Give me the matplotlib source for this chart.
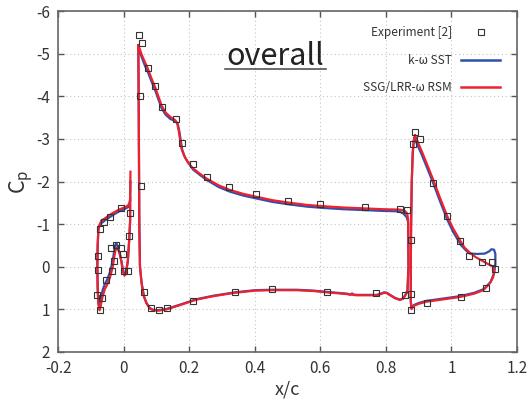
import matplotlib
matplotlib.use("Agg")
import matplotlib.pyplot as plt
from matplotlib.lines import Line2D

plt.rcParams['font.family'] = ['Noto Sans CJK JP', 'DejaVu Sans']
plt.rcParams['mathtext.default'] = 'regular'

# ---- experiment (squares) ----
exp_x = [-0.072, -0.079, -0.079, -0.081, -0.065, -0.072, -0.055, -0.034, -0.028, -0.037,
         -0.024, -0.008, -0.002, 0.001, 0.014, 0.017, 0.020, -0.008, -0.041, -0.059,
         0.047, 0.056, 0.074, 0.095, 0.117, 0.160, 0.177, 0.212, 0.253, 0.321, 0.404,
         0.502, 0.599, 0.735, 0.843, 0.863, 0.050, 0.052,
         0.062, 0.083, 0.108, 0.131, 0.211, 0.340, 0.452, 0.619, 0.770, 0.857,
         0.876, 0.877, 0.926, 1.028, 1.104, 1.133, 1.123, 1.094, 1.053, 1.026, 0.988,
         0.945, 0.904, 0.889, 0.882, 0.876]
exp_cp = [-0.89, -0.26, 0.07, 0.67, 0.73, 1.02, 0.30, 0.09, -0.13, -0.43,
          -0.51, -0.45, -0.31, 0.09, 0.09, -0.73, -1.27, -1.37, -1.17, -1.06,
          -5.44, -5.25, -4.67, -4.25, -3.75, -3.47, -2.91, -2.40, -2.10, -1.86, -1.70,
          -1.55, -1.47, -1.41, -1.36, -1.32, -4.01, -1.90,
          0.60, 0.96, 1.01, 0.96, 0.81, 0.60, 0.52, 0.59, 0.61, 0.67,
          0.65, 1.02, 0.85, 0.71, 0.50, 0.06, -0.10, -0.10, -0.25, -0.61, -1.18,
          -1.96, -2.99, -3.15, -2.87, -0.62]

# ---- SSG/LRR-omega RSM ----
slat_x_rsm = [0.021, 0.020, 0.020, 0.017, 0.013, 0.007, 0.003, -0.002, -0.006, -0.011,
              -0.016, -0.021, -0.025, -0.029, -0.033, -0.041, -0.050, -0.057, -0.064,
              -0.070, -0.073, -0.077, -0.079, -0.080, -0.079, -0.077, -0.075, -0.068,
              -0.058, -0.045, -0.031, -0.011, 0.005, 0.014, 0.018, 0.020]
slat_cp_rsm = [-2.23, -1.60, -1.09, -0.62, -0.15, 0.16, 0.21, 0.12, -0.08, -0.30,
               -0.40, -0.44, -0.38, -0.20, 0.00, 0.24, 0.42, 0.52, 0.70,
               0.92, 1.02, 0.85, 0.50, 0.00, -0.50, -0.85, -0.95, -1.08,
               -1.13, -1.20, -1.27, -1.35, -1.40, -1.44, -1.50, -1.60]

main_x_rsm = [0.045, 0.055, 0.065, 0.075, 0.085, 0.096, 0.106, 0.116, 0.128, 0.142,
              0.157, 0.163, 0.168, 0.173, 0.177, 0.185, 0.195, 0.210, 0.233, 0.253,
              0.290, 0.325, 0.365, 0.406, 0.455, 0.508, 0.560, 0.609, 0.670, 0.731,
              0.790, 0.843, 0.858, 0.865, 0.868, 0.869, 0.866, 0.862,
              0.853, 0.843, 0.828, 0.813, 0.803, 0.795, 0.785, 0.772, 0.740, 0.711,
              0.700, 0.697, 0.693, 0.680, 0.650, 0.619, 0.580, 0.528, 0.480, 0.452,
              0.401, 0.340, 0.274, 0.223, 0.172, 0.131, 0.106, 0.090, 0.080, 0.070,
              0.062, 0.055, 0.050, 0.048, 0.047, 0.046, 0.045]
main_cp_rsm = [-5.20, -4.98, -4.80, -4.63, -4.42, -4.22, -4.00, -3.78, -3.62, -3.52,
               -3.44, -3.38, -3.20, -2.95, -2.76, -2.60, -2.47, -2.32, -2.18, -2.07,
               -1.91, -1.80, -1.71, -1.64, -1.56, -1.50, -1.45, -1.42, -1.39, -1.37,
               -1.35, -1.34, -1.31, -1.25, -1.10, 0.00, 0.55, 0.63,
               0.75, 0.78, 0.74, 0.67, 0.62, 0.61, 0.64, 0.67, 0.67, 0.67,
               0.66, 0.63, 0.66, 0.64, 0.62, 0.60, 0.57, 0.55, 0.55, 0.55,
               0.56, 0.61, 0.69, 0.77, 0.90, 1.00, 1.03, 1.02, 0.98, 0.86,
               0.70, 0.39, 0.00, -1.00, -2.50, -4.00, -5.20]

flap_x_rsm = [0.889, 0.910, 0.930, 0.945, 0.965, 0.987, 1.005, 1.026, 1.040, 1.056,
              1.075, 1.092, 1.110, 1.128, 1.131, 1.127, 1.117, 1.097, 1.070, 1.026,
              0.980, 0.924, 0.900, 0.885, 0.878, 0.876, 0.876, 0.877, 0.879, 0.882,
              0.886, 0.889]
flap_cp_rsm = [-3.08, -2.70, -2.32, -2.03, -1.62, -1.19, -0.90, -0.62, -0.45, -0.33,
               -0.22, -0.15, -0.07, 0.00, 0.10, 0.25, 0.39, 0.55, 0.63, 0.71,
               0.76, 0.82, 0.87, 0.92, 0.99, 0.80, 0.00, -1.00, -2.00, -2.70,
               -3.00, -3.08]

# ---- k-omega SST ----
slat_x_sst = [0.021, 0.020, 0.020, 0.017, 0.013, 0.007, 0.003, -0.002, -0.006, -0.012,
              -0.018, -0.022, -0.025, -0.029, -0.033, -0.041, -0.050, -0.057, -0.064,
              -0.070, -0.073, -0.077, -0.079, -0.080, -0.079, -0.077, -0.075, -0.068,
              -0.058, -0.045, -0.031, -0.011, 0.005, 0.014, 0.018, 0.020]
slat_cp_sst = [-2.00, -1.55, -1.05, -0.60, -0.12, 0.14, 0.18, 0.08, -0.12, -0.30,
               -0.48, -0.55, -0.52, -0.35, -0.15, 0.12, 0.30, 0.40, 0.55,
               0.85, 1.00, 0.85, 0.50, 0.00, -0.50, -0.85, -0.93, -1.02,
               -1.08, -1.15, -1.22, -1.31, -1.36, -1.40, -1.46, -1.55]

main_x_sst = [0.045, 0.055, 0.065, 0.075, 0.085, 0.096, 0.106, 0.116, 0.128, 0.142,
              0.157, 0.165, 0.170, 0.175, 0.179, 0.187, 0.197, 0.212, 0.235, 0.255,
              0.290, 0.325, 0.365, 0.406, 0.455, 0.508, 0.560, 0.609, 0.670, 0.731,
              0.790, 0.840, 0.853, 0.863, 0.868, 0.869, 0.866, 0.862,
              0.853, 0.843, 0.828, 0.813, 0.803, 0.795, 0.785, 0.772, 0.740, 0.711,
              0.700, 0.697, 0.693, 0.680, 0.650, 0.619, 0.580, 0.528, 0.480, 0.452,
              0.401, 0.340, 0.274, 0.223, 0.172, 0.131, 0.106, 0.090, 0.080, 0.070,
              0.062, 0.055, 0.050, 0.048, 0.047, 0.046, 0.045]
main_cp_sst = [-5.18, -4.92, -4.72, -4.55, -4.35, -4.15, -3.93, -3.72, -3.57, -3.47,
               -3.42, -3.36, -3.18, -2.93, -2.74, -2.57, -2.44, -2.28, -2.14, -2.03,
               -1.87, -1.76, -1.67, -1.60, -1.52, -1.46, -1.41, -1.38, -1.35, -1.33,
               -1.31, -1.30, -1.25, -1.17, -1.05, 0.00, 0.55, 0.63,
               0.74, 0.77, 0.73, 0.66, 0.61, 0.60, 0.63, 0.66, 0.66, 0.66,
               0.65, 0.63, 0.65, 0.63, 0.61, 0.59, 0.56, 0.54, 0.54, 0.54,
               0.55, 0.60, 0.68, 0.76, 0.89, 0.99, 1.02, 1.01, 0.97, 0.85,
               0.69, 0.38, 0.00, -1.00, -2.50, -4.00, -5.18]

flap_x_sst = [0.887, 0.910, 0.930, 0.945, 0.965, 0.987, 1.005, 1.030, 1.046, 1.056,
              1.080, 1.102, 1.115, 1.122, 1.130, 1.134, 1.134, 1.130, 1.120, 1.100,
              1.070, 1.026, 0.980, 0.924, 0.900, 0.885, 0.878, 0.876, 0.876, 0.877,
              0.879, 0.882, 0.885, 0.887]
flap_cp_sst = [-3.02, -2.62, -2.24, -1.95, -1.54, -1.11, -0.82, -0.50, -0.37, -0.31,
               -0.30, -0.31, -0.36, -0.41, -0.40, -0.30, -0.05, 0.15, 0.35, 0.52,
               0.61, 0.69, 0.74, 0.80, 0.85, 0.90, 0.98, 0.80, 0.00, -1.00,
               -2.00, -2.65, -2.95, -3.02]

x_ticks = [-0.2, 0.0, 0.2, 0.4, 0.6, 0.8, 1.0, 1.2]
x_tick_labels = ['-0.2', '0', '0.2', '0.4', '0.6', '0.8', '1', '1.2']
y_ticks = [-6, -5, -4, -3, -2, -1, 0, 1, 2]
y_tick_labels = ['-6', '-5', '-4', '-3', '-2', '-1', '0', '1', '2']

BLUE = '#2f4fae'
RED = '#f0202c'

fig = plt.figure(figsize=(5.31, 4.01), dpi=100)
ax = fig.add_axes([58 / 531, 1 - 352 / 401, 459 / 531, 341 / 401])

for xs, cs in [(slat_x_sst, slat_cp_sst), (main_x_sst, main_cp_sst), (flap_x_sst, flap_cp_sst)]:
    ax.plot(xs, cs, color=BLUE, lw=1.6, solid_joinstyle='round', zorder=2)
for xs, cs in [(slat_x_rsm, slat_cp_rsm), (main_x_rsm, main_cp_rsm), (flap_x_rsm, flap_cp_rsm)]:
    ax.plot(xs, cs, color=RED, lw=1.6, solid_joinstyle='round', zorder=3)
ax.plot(exp_x, exp_cp, ls='none', marker='s', ms=5, mfc='none', mec='#333333', mew=0.8, zorder=4)

ax.set_xlim(-0.2, 1.2)
ax.set_ylim(2, -6)
ax.set_xticks(x_ticks)
ax.set_xticklabels(x_tick_labels)
ax.set_yticks(y_ticks)
ax.set_yticklabels(y_tick_labels)
ax.tick_params(direction='in', length=4, width=1, colors='#555555', labelcolor='#333333',
               labelsize=11, pad=6, top=True, right=True)
ax.grid(True, color='#c4c4c4', lw=0.8, ls=(0, (1, 2.5)))
for sp in ax.spines.values():
    sp.set_color('#666666')
    sp.set_linewidth(1.2)

ax.set_xlabel('x/c', fontsize=13, color='#333333', labelpad=2)
ax.set_ylabel('$C_p$', fontsize=15.5, color='#333333', labelpad=0)

handles = [
    Line2D([], [], ls='none', marker='s', ms=5, mfc='none', mec='#333333', mew=0.8),
    Line2D([], [], color=BLUE, lw=1.8),
    Line2D([], [], color=RED, lw=1.8),
]
labels = ['Experiment [2]', 'k-\u03c9 SST', 'SSG/LRR-\u03c9 RSM']
leg = ax.legend(handles, labels, loc='upper right', bbox_to_anchor=(0.963, 0.955),
                frameon=False, markerfirst=False, fontsize=8.5, handlelength=3.3,
                handletextpad=0.75, labelspacing=1.22, borderpad=0, borderaxespad=0)
for t in leg.get_texts():
    t.set_color('#333333')

title = ax.text(0.474, 0.842, 'overall', transform=ax.transAxes, ha='center', va='baseline',
                fontsize=22, color='#222222')
fig.canvas.draw()
bb = title.get_window_extent().transformed(ax.transAxes.inverted())
ax.plot([bb.x0 - 0.003, bb.x1 + 0.003], [0.831, 0.831], transform=ax.transAxes,
        color='#444444', lw=1.1, clip_on=False)

fig.savefig('out.png', dpi=100)
